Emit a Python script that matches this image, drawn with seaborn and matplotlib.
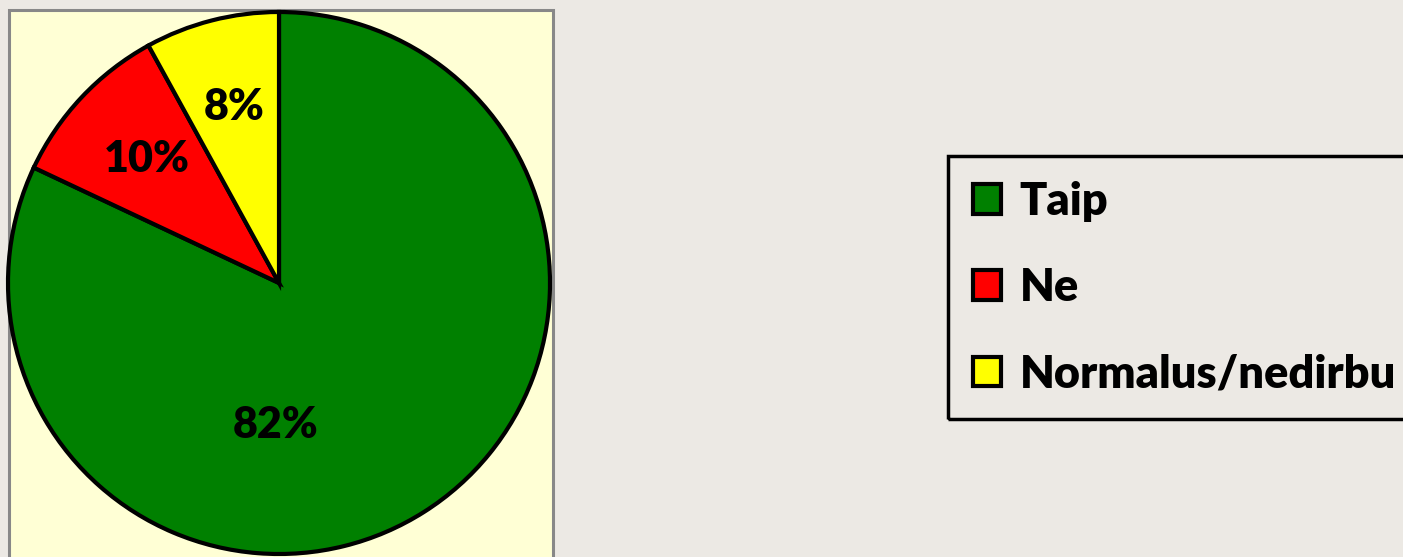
import matplotlib.pyplot as plt
import seaborn as sns
from matplotlib.patches import Rectangle

# duomenys
labels = ["Taip", "Ne", "Normalus/nedirbu"]
values = [82, 10, 8]
colors = ["#008000", "#ff0000", "#ffff00"]

sns.set_theme(style="white")
plt.rcParams['font.family'] = ['Lato', 'DejaVu Sans']
plt.rcParams['text.color'] = 'black'

fig = plt.figure(figsize=(14.03, 5.57), dpi=100)
fig.patch.set_facecolor("#ece9e4")
ax = fig.add_axes([0, 0, 1, 1])

# geltonas diagramos plotas
ax.add_patch(Rectangle((9, -10), 544, 557, facecolor="#ffffd5",
                       edgecolor="#888888", linewidth=2.2, zorder=0))

wedges, texts, autotexts = ax.pie(
    values, colors=colors, startangle=90, counterclock=False,
    center=(279, 274), radius=271,
    autopct=lambda p: f"{p:.0f}%", pctdistance=0.67,
    wedgeprops=dict(edgecolor="black", linewidth=3),
    textprops=dict(fontsize=31, fontweight="heavy", color="black"))

# didžiausios dalies etiketė apačioje
autotexts[0].set_position((276, 132))

ax.set_xlim(0, 1403)
ax.set_ylim(0, 557)
ax.set_aspect("equal")
ax.axis("off")

leg = ax.legend(wedges, labels, loc="upper left",
                bbox_to_anchor=(948, 401), bbox_transform=ax.transData,
                prop=dict(weight="heavy", size=32.5), frameon=True,
                fancybox=False, edgecolor="black", facecolor="none",
                handlelength=0.62, handleheight=0.62, handletextpad=0.42,
                labelspacing=1.0, borderpad=0.55, borderaxespad=0)
leg.get_frame().set_linewidth(2.5)
leg.get_frame().set_alpha(None)
for t in leg.get_texts():
    t.set_color("black")

fig.savefig("out.png", dpi=100, facecolor=fig.get_facecolor())
